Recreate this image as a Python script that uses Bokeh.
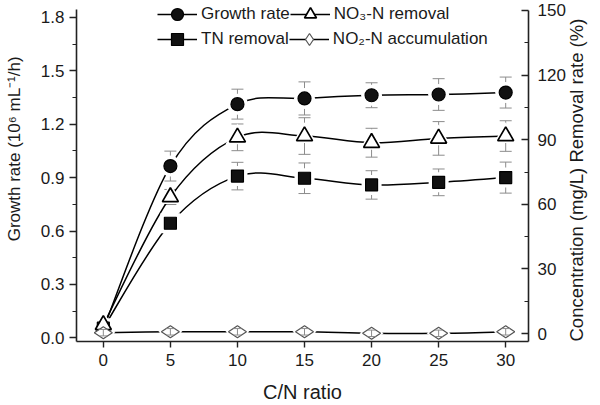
import numpy as np
from bokeh.plotting import figure
from bokeh.models import (Range1d, LinearAxis, FixedTicker, NumeralTickFormatter, Whisker,
                          TeeHead, ColumnDataSource, Legend, LegendItem)
from bokeh.embed import file_html
from bokeh.resources import INLINE

# ---------------- data ----------------
cn_ratio = [0, 5, 10, 15, 20, 25, 30]
growth_rate = [0.05, 0.965, 1.313, 1.345, 1.363, 1.367, 1.378]
growth_err = [0.0, 0.084, 0.084, 0.093, 0.070, 0.089, 0.087]
no3_removal = [4.0, 63.4, 91.1, 91.7, 88.6, 90.6, 91.7]
no3_err = [0.0, 3.5, 6.2, 8.5, 6.7, 7.8, 7.1]
tn_removal = [2.5, 51.2, 73.1, 72.1, 69.0, 70.2, 72.4]
tn_err = [0.0, 3.5, 6.4, 7.1, 6.6, 6.2, 7.2]
no2_accum = [0.4, 0.8, 0.8, 0.8, 0.1, 0.1, 0.8]
no2_err = [1.5, 1.5, 1.5, 1.5, 1.5, 1.5, 1.5]

x_ticks = [0, 5, 10, 15, 20, 25, 30]
left_ticks = [0.0, 0.3, 0.6, 0.9, 1.2, 1.5, 1.8]
left_minor = [0.15, 0.45, 0.75, 1.05, 1.35, 1.65]
right_ticks = [0, 30, 60, 90, 120, 150]
right_minor = [15, 45, 75, 105, 135]

FONT = "Liberation Sans"
AX = "#222222"
ERR = "#8c8c8c"
TXT = "#1a1a1a"

p = figure(width=600, height=405, x_range=Range1d(-2.0, 31.7), y_range=Range1d(-0.0207, 1.8784),
           output_backend="svg", toolbar_location=None,
           min_border_left=76, min_border_right=67, min_border_top=3, min_border_bottom=63)
p.extra_y_ranges = {"right": Range1d(-3.70, 153.24)}
p.grid.visible = False
p.outline_line_color = None
p.background_fill_color = "white"


def style_axis(ax):
    ax.axis_line_color = AX
    ax.axis_line_width = 1.6
    ax.major_tick_line_color = AX
    ax.major_tick_line_width = 1.4
    ax.minor_tick_line_color = AX
    ax.minor_tick_line_width = 1.2
    ax.major_label_text_font = FONT
    ax.major_label_text_font_size = "17px"
    ax.major_label_text_color = TXT
    ax.axis_label_text_font = FONT
    ax.axis_label_text_font_style = "normal"
    ax.axis_label_text_color = TXT


xa = p.xaxis[0]
xa.ticker = FixedTicker(ticks=x_ticks)
style_axis(xa)
xa.major_tick_out = 6
xa.major_tick_in = 0
xa.minor_tick_line_color = None
xa.major_label_standoff = 6
xa.axis_label = "C/N ratio"
xa.axis_label_text_font_size = "20px"
xa.axis_label_standoff = 12

ya = p.yaxis[0]
ya.ticker = FixedTicker(ticks=left_ticks, minor_ticks=left_minor)
ya.formatter = NumeralTickFormatter(format="0.0")
ya.bounds = (-0.0207, 1.845)
style_axis(ya)
ya.major_tick_out = 7
ya.major_tick_in = 0
ya.minor_tick_out = 4
ya.minor_tick_in = 0
ya.major_label_standoff = 5
# leading no-break spaces nudge the centred title upward, as in the reference
ya.axis_label = "\u00a0" * 10 + "Growth rate (10\u2076 mL\u207b\u00b9/h)"
ya.axis_label_text_font_size = "17px"
ya.axis_label_standoff = 14

ra = LinearAxis(y_range_name="right", ticker=FixedTicker(ticks=right_ticks, minor_ticks=right_minor),
                bounds=(-3.70, 150))
style_axis(ra)
ra.major_tick_out = 0
ra.major_tick_in = 7
ra.minor_tick_out = 0
ra.minor_tick_in = 4
ra.major_label_standoff = 9
ra.axis_label = "Concentration (mg/L) Removal rate (%)"
ra.axis_label_text_font_size = "18.5px"
ra.axis_label_standoff = 8
_props = ra.properties()
if "axis_label_orientation" in _props:
    ra.axis_label_orientation = np.pi / 2
if "axis_label_align" in _props:
    ra.axis_label_align = "start"
p.add_layout(ra, "right")


# ---------------- smooth connecting curves (Catmull-Rom as cubic Bezier) ----------------
def bezier_parts(xs, ys):
    x = np.asarray(xs, float)
    y = np.asarray(ys, float)
    xp = np.concatenate([[x[0]], x, [x[-1]]])
    yp = np.concatenate([[y[0]], y, [y[-1]]])
    n = len(x)
    return dict(
        x0=x[:-1], y0=y[:-1], x1=x[1:], y1=y[1:],
        cx0=x[:-1] + (xp[2:n + 1] - xp[0:n - 1]) / 6.0,
        cy0=y[:-1] + (yp[2:n + 1] - yp[0:n - 1]) / 6.0,
        cx1=x[1:] - (xp[3:n + 2] - xp[1:n]) / 6.0,
        cy1=y[1:] - (yp[3:n + 2] - yp[1:n]) / 6.0,
    )


series = [
    dict(y=growth_rate, err=growth_err, rng="default", marker="circle", size=13, fill="#111111",
         line="#000000", lw=1.2, halo=21, angle=0.0, label="Growth rate"),
    dict(y=tn_removal, err=tn_err, rng="right", marker="square", size=12, fill="#111111",
         line="#000000", lw=1.2, halo=20, angle=0.0, label="TN removal"),
    dict(y=no3_removal, err=no3_err, rng="right", marker="triangle", size=16, fill="white",
         line="#000000", lw=1.7, halo=24, angle=0.0, label="NO\u2083-N removal"),
    dict(y=no2_accum, err=no2_err, rng="right", marker="diamond", size=18, fill="white",
         line="#555555", lw=1.2, halo=24, angle=np.pi / 2, label="NO\u2082-N accumulation"),
]

curve_renderers = []
for s in series:
    kw = {} if s["rng"] == "default" else {"y_range_name": s["rng"]}
    r = p.bezier(source=ColumnDataSource(bezier_parts(cn_ratio, s["y"])),
                 x0="x0", y0="y0", x1="x1", y1="y1", cx0="cx0", cy0="cy0", cx1="cx1", cy1="cy1",
                 line_color="black", line_width=1.5, **kw)
    curve_renderers.append(r)

# error bars (below markers, except the diamonds')
for i, s in enumerate(series):
    yv = np.asarray(s["y"], float)
    ev = np.asarray(s["err"], float)
    src = ColumnDataSource(dict(x=cn_ratio, lo=yv - ev, hi=yv + ev))
    cap = 8 if i == 3 else 12
    w = Whisker(source=src, base="x", lower="lo", upper="hi", line_color=ERR, line_width=1,
                level="annotation" if i == 3 else "underlay",
                upper_head=TeeHead(size=cap, line_color=ERR, line_width=1),
                lower_head=TeeHead(size=cap, line_color=ERR, line_width=1))
    if s["rng"] != "default":
        w.y_range_name = s["rng"]
    p.add_layout(w)

# white halos so the curves stop short of the symbols
for s in series:
    kw = {} if s["rng"] == "default" else {"y_range_name": s["rng"]}
    p.scatter(cn_ratio, s["y"], marker=s["marker"], size=s["halo"], angle=s["angle"],
              fill_color="white", line_color=None, **kw)

marker_renderers = []
for s in series:
    kw = {} if s["rng"] == "default" else {"y_range_name": s["rng"]}
    r = p.scatter(cn_ratio, s["y"], marker=s["marker"], size=s["size"], angle=s["angle"],
                  fill_color=s["fill"], line_color=s["line"], line_width=s["lw"], **kw)
    marker_renderers.append(r)


def make_legend(idx, loc):
    its = [LegendItem(label=series[i]["label"], renderers=[curve_renderers[i], marker_renderers[i]])
           for i in idx]
    return Legend(items=its, location=loc, orientation="horizontal",
                  glyph_width=40, glyph_height=30, label_height=30, spacing=0, padding=0, margin=0,
                  label_standoff=4, label_text_font=FONT, label_text_font_size="17px",
                  label_text_color=TXT, background_fill_alpha=0, border_line_color=None)


p.add_layout(make_legend([0, 2], (81, 312)))
p.add_layout(make_legend([1, 3], (81, 287)))

open("out.html", "w").write(file_html(p, INLINE))
